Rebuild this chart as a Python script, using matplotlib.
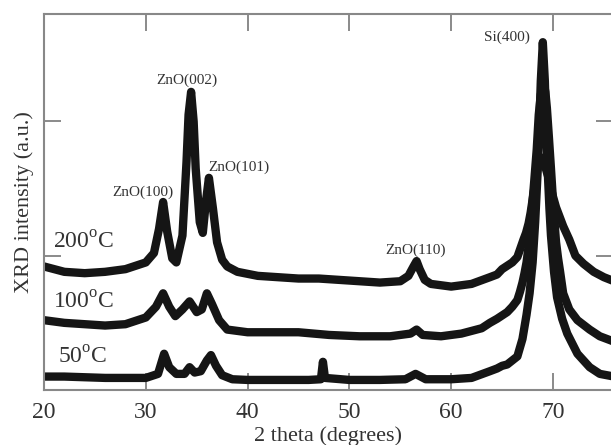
import numpy as np
import matplotlib
matplotlib.use('Agg')
import matplotlib.pyplot as plt

plt.rcParams['font.family'] = ['Liberation Serif', 'DejaVu Serif']
plt.rcParams['mathtext.fontset'] = 'custom'
plt.rcParams['mathtext.rm'] = 'Liberation Serif'

# 200 C curve (top)
x200 = [20, 22, 24, 26, 28, 30, 30.8, 31.3, 31.7, 32.1, 32.6, 33.0, 33.6, 34.0,
        34.2, 34.45, 34.7, 34.9, 35.3, 35.6, 35.9, 36.2, 36.6, 37.0, 37.5, 38.0,
        39, 41, 43, 45, 47, 49, 51, 53, 55, 55.8, 56.3, 56.6, 56.9, 57.4, 58,
        60, 62, 63.8, 64.5, 65, 66.0, 66.5, 67.1, 67.35, 67.6, 67.8, 68.0, 68.2,
        68.4, 68.6, 68.8, 69.0, 69.1, 69.4, 69.6, 69.8, 70.0, 70.3, 70.6, 71.0,
        71.6, 72.2, 72.6, 73.0, 74.0, 75.0, 76.0]
y200 = [0.92, 0.88, 0.87, 0.88, 0.90, 0.95, 1.02, 1.20, 1.40, 1.18, 0.98, 0.95,
        1.15, 1.70, 2.05, 2.22, 2.00, 1.65, 1.25, 1.17, 1.40, 1.58, 1.35, 1.10,
        0.97, 0.92, 0.88, 0.85, 0.84, 0.83, 0.83, 0.82, 0.81, 0.80, 0.81, 0.85,
        0.92, 0.96, 0.90, 0.82, 0.79, 0.77, 0.79, 0.84, 0.86, 0.90, 0.95, 0.99,
        1.12, 1.17, 1.24, 1.32, 1.42, 1.52, 1.62, 1.69, 1.72, 1.73, 1.70, 1.62,
        1.57, 1.50, 1.44, 1.36, 1.30, 1.22, 1.12, 1.00, 0.97, 0.94, 0.88, 0.84,
        0.81]

# 100 C curve (middle)
x100 = [20, 22, 24, 26, 28, 30, 31.0, 31.7, 32.3, 32.9, 33.6, 34.3, 35.0, 35.5,
        36.0, 36.5, 37.2, 38, 40, 42, 45, 48, 51, 54, 56, 56.6, 57.2, 59, 61, 63,
        63.8, 64.5, 65.5, 66.0, 66.5, 66.75, 67.0, 67.2, 67.4, 67.65, 67.9,
        68.15, 68.4, 68.6, 68.8, 69.1, 69.25, 69.4, 69.6, 69.8, 70.05, 70.3,
        70.5, 70.7, 71.0, 71.6, 72.4, 73.6, 74.6, 76]
y100 = [0.52, 0.50, 0.49, 0.48, 0.49, 0.54, 0.62, 0.72, 0.62, 0.55, 0.60, 0.66,
        0.58, 0.60, 0.72, 0.64, 0.52, 0.45, 0.43, 0.43, 0.43, 0.41, 0.40, 0.40,
        0.42, 0.45, 0.41, 0.40, 0.42, 0.46, 0.50, 0.53, 0.58, 0.62, 0.67, 0.73,
        0.80, 0.87, 0.95, 1.10, 1.32, 1.55, 1.79, 2.05, 2.20, 2.28, 2.22, 2.10,
        1.88, 1.65, 1.35, 1.10, 0.98, 0.88, 0.72, 0.60, 0.52, 0.45, 0.40, 0.36]

# 50 C curve (bottom)
x50 = [20, 22, 24, 26, 28, 30, 31.2, 31.8, 32.3, 33.0, 33.8, 34.3, 34.8, 35.4,
       36.0, 36.4, 36.9, 37.5, 38.5, 40, 43, 46, 47.2, 47.4, 47.6, 50, 53, 55.5,
       56.5, 57.5, 60, 62, 63.8, 64.5, 65, 65.5, 66.0, 66.5, 67.0, 67.4, 67.7,
       68.0, 68.25, 68.5, 68.65, 68.8, 69.0, 69.2, 69.35, 69.5, 69.65, 69.8,
       70.1, 70.4, 70.9, 71.4, 72.4, 73.6, 74.6, 76]
y50 = [0.10, 0.10, 0.095, 0.09, 0.09, 0.09, 0.12, 0.27, 0.17, 0.12, 0.12, 0.17,
       0.13, 0.14, 0.22, 0.26, 0.18, 0.11, 0.08, 0.075, 0.075, 0.075, 0.08, 0.21,
       0.09, 0.075, 0.075, 0.08, 0.12, 0.08, 0.08, 0.09, 0.14, 0.16, 0.18, 0.19,
       0.22, 0.25, 0.38, 0.56, 0.72, 0.95, 1.25, 1.64, 1.95, 2.30, 2.59, 2.30,
       1.90, 1.60, 1.35, 1.15, 0.88, 0.69, 0.53, 0.42, 0.27, 0.17, 0.12, 0.10]

temp_labels = ['200$^{\\mathrm{o}}$C', '100$^{\\mathrm{o}}$C', '50$^{\\mathrm{o}}$C']
temp_pos = [(20.9, 1.10), (20.9, 0.65), (21.4, 0.24)]
peak_labels = ['ZnO(100)', 'ZnO(002)', 'ZnO(101)', 'ZnO(110)', 'Si(400)']
peak_pos = [(29.7, 1.47), (34.0, 2.31), (39.1, 1.66), (56.5, 1.04), (65.5, 2.63)]

fig = plt.figure(figsize=(6.11, 4.45), dpi=100)
ax = fig.add_axes([44 / 611, 1 - 390 / 445, (613 - 44) / 611, (390 - 14) / 445])

for xs, ys in [(x200, y200), (x100, y100), (x50, y50)]:
    ax.plot(xs, ys, color='#151515', lw=6, solid_joinstyle='round')

ax.set_xlim(20, 20 + (613 - 44) / 10.18)
ax.set_ylim(0, 2.8)
ax.set_xticks([20, 30, 40, 50, 60, 70])
ax.set_yticks([1, 2])
ax.set_yticklabels([])
ax.tick_params(direction='in', length=12, width=1.2, color='#777777',
               top=True, right=True, labelsize=17, labelcolor='#333333', pad=9)
for s in ax.spines.values():
    s.set_color('#888888')
    s.set_linewidth(1.5)

ax.set_xlabel('2 theta (degrees)', fontsize=16, color='#333333', labelpad=2)
ax.set_ylabel('XRD intensity (a.u.)', fontsize=16, color='#333333', labelpad=-2)

for t, (tx, ty) in zip(temp_labels, temp_pos):
    ax.text(tx, ty, t, fontsize=17, color='#333333', ha='left', va='center')
for t, (tx, ty) in zip(peak_labels, peak_pos):
    ax.text(tx, ty, t, fontsize=11, color='#333333', ha='center', va='center')

fig.savefig('out.png', dpi=100)
